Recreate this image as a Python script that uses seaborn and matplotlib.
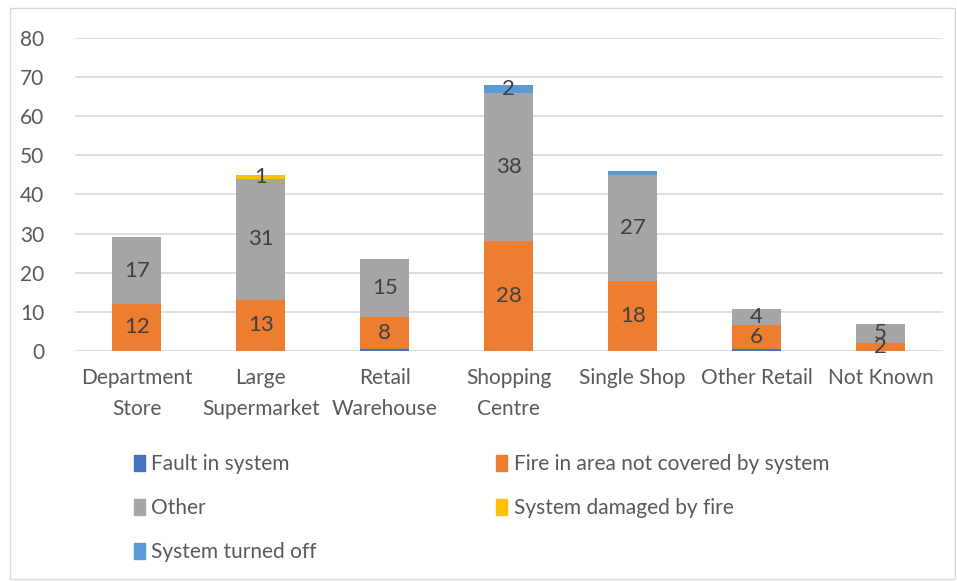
import matplotlib.pyplot as plt
import matplotlib.patches as mpatches
import pandas as pd
import numpy as np
import seaborn as sns

sns.set_theme(style="white")
plt.rcParams['font.family'] = ['Lato', 'DejaVu Sans']

# data
categories = ["Department\nStore", "Large\nSupermarket", "Retail\nWarehouse", "Shopping\nCentre",
              "Single Shop", "Other Retail", "Not Known"]
fault = [0, 0, 0.6, 0, 0, 0.6, 0]
fire = [12, 13, 8, 28, 18, 6, 2]
other = [17, 31, 15, 38, 27, 4, 5]
damaged = [0, 1, 0, 0, 0, 0, 0]
turned_off = [0, 0, 0, 2, 1, 0, 0]

series_names = ["Fault in system", "Fire in area not covered by system", "Other",
                "System damaged by fire", "System turned off"]
series_vals = [fault, fire, other, damaged, turned_off]
colors = ["#4472C4", "#ED7D31", "#A5A5A5", "#FFC000", "#5B9BD5"]
# which labels are shown (Excel hides some)
show_labels = [
    [False] * 7,
    [True] * 7,
    [True] * 7,
    [False, True, False, False, False, False, False],
    [False, False, False, True, False, False, False],
]

fig = plt.figure(figsize=(9.57, 5.81), dpi=100)
ax = fig.add_axes([0.078, 0.396, 0.907, 0.5386])

bottom = np.zeros(len(categories))
handles = []
for name, vals, col, show in zip(series_names, series_vals, colors, show_labels):
    df = pd.DataFrame({"cat": categories, "val": vals})
    sns.barplot(data=df, x="cat", y="val", color=col, bottom=bottom, width=0.4,
                ax=ax, linewidth=0, saturation=1, errorbar=None)
    for i, (v, s) in enumerate(zip(vals, show)):
        if s and v > 0:
            ax.text(i, bottom[i] + v / 2, f"{v:g}", ha="center", va="center",
                    fontsize=16, color="#404040")
    bottom = bottom + np.array(vals)
    handles.append(mpatches.Patch(color=col, label=name))

ax.set_ylim(0, 80)
ax.set_xlim(-0.5, len(categories) - 0.5)
ax.set_yticks(range(0, 81, 10))
ax.yaxis.grid(True, color="#D9D9D9", linewidth=1.2)
ax.set_axisbelow(True)
for sp in ax.spines.values():
    sp.set_visible(False)
ax.set_xlabel("")
ax.set_ylabel("")
ax.tick_params(axis="y", labelsize=15, labelcolor="#595959", length=0, pad=22)
ax.tick_params(axis="x", labelsize=15, labelcolor="#595959", length=0, pad=12)
for lbl in ax.get_xticklabels():
    lbl.set_linespacing(1.7)
    lbl.set_verticalalignment("top")

order = [0, 2, 4, 1, 3]
fig.legend([handles[i] for i in order], [series_names[i] for i in order],
           ncol=2, loc="upper left", bbox_to_anchor=(0.12, 0.25), frameon=False,
           fontsize=15, labelcolor="#595959", handlelength=0.55, handleheight=0.8,
           handletextpad=0.3, columnspacing=8.6, labelspacing=1.15)

fig.patches.append(mpatches.Rectangle((0.01, 0.004), 0.988, 0.982, transform=fig.transFigure,
                                      fill=False, edgecolor="#D9D9D9", linewidth=1))

fig.savefig("out.png", dpi=100)
